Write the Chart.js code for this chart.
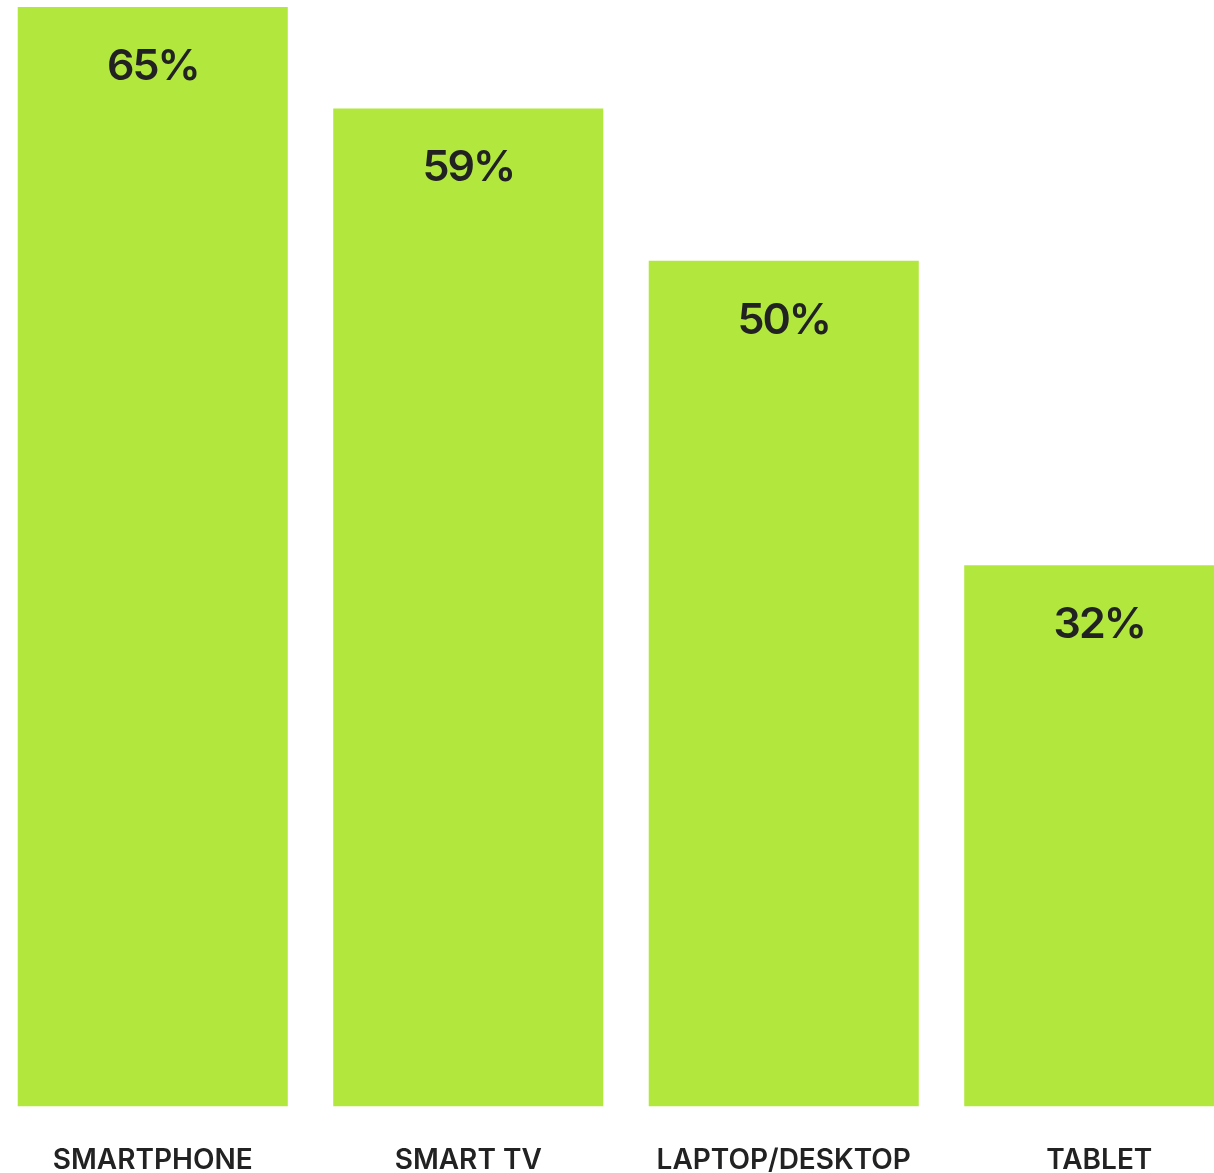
<!DOCTYPE html>
<html>
<head>
<meta charset="utf-8">
<script src="https://cdn.jsdelivr.net/npm/chart.js@4/dist/chart.umd.min.js"></script>
<style>
  html, body { margin: 0; padding: 0; background: #fff; overflow: hidden; }
  body { width: 1214px; height: 1173px; position: relative; }
  #wrap { position: absolute; left: -5px; top: 0; width: 1262px; height: 1230px; }
</style>
</head>
<body>
<div id="wrap"><canvas id="devices"></canvas></div>
<script>
// Device share figures
const devices = ['SMARTPHONE', 'SMART TV', 'LAPTOP/DESKTOP', 'TABLET'];
const shares = [65, 59, 50, 32];

const barColor = '#b2e83e';
const inkColor = '#222222';

// writes the percentage inside the top of every bar
const valueLabels = {
  id: 'valueLabels',
  afterDatasetsDraw(chart) {
    const ctx = chart.ctx;
    const meta = chart.getDatasetMeta(0);
    ctx.save();
    ctx.font = '600 43px Inter';
    ctx.letterSpacing = '-2px';
    ctx.fillStyle = inkColor;
    ctx.textAlign = 'center';
    ctx.textBaseline = 'middle';
    meta.data.forEach((bar, i) => {
      ctx.fillText(shares[i] + '%', bar.x, bar.y + 60);
    });
    ctx.restore();
  }
};

new Chart(document.getElementById('devices'), {
  type: 'bar',
  data: {
    labels: devices,
    datasets: [{
      data: shares,
      backgroundColor: barColor,
      borderWidth: 0,
      categoryPercentage: 1,
      barPercentage: 0.856
    }]
  },
  options: {
    responsive: true,
    maintainAspectRatio: false,
    animation: false,
    layout: { padding: { top: 7, bottom: 16, left: 0, right: 0 } },
    plugins: { legend: { display: false }, tooltip: { enabled: false } },
    scales: {
      x: {
        grid: { display: false, drawTicks: false },
        border: { display: false },
        ticks: {
          padding: 37,
          color: inkColor,
          font: { family: 'Inter', size: 28, weight: '600' },
          maxRotation: 0,
          autoSkip: false
        }
      },
      y: { display: false, min: 0, max: 65 }
    }
  },
  plugins: [valueLabels]
});
</script>
</body>
</html>
